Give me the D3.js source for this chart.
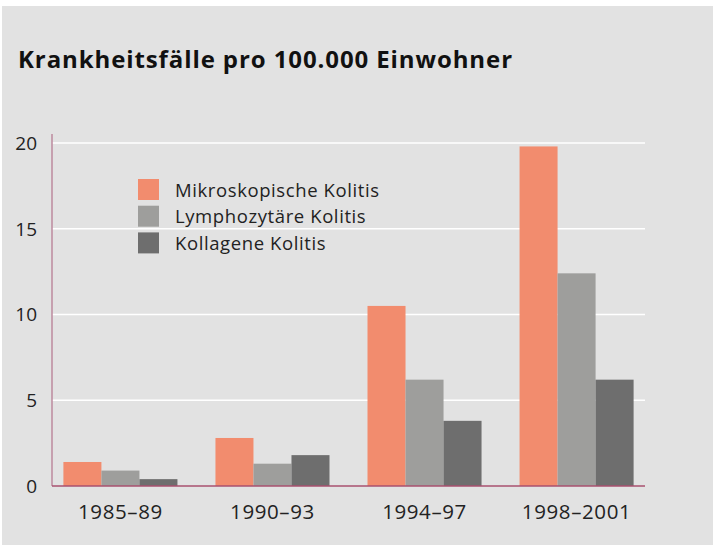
<!DOCTYPE html>
<html>
<head>
<meta charset="utf-8">
<script src="https://cdn.jsdelivr.net/npm/d3@7"></script>
<style>
  body { margin: 0; background: #ffffff; }
  svg { display: block; font-family: "Open Sans", "Noto Sans", sans-serif; }
</style>
</head>
<body>
<svg id="chart" width="715" height="546"></svg>
<script>
// chart data
const periods = ['1985–89', '1990–93', '1994–97', '1998–2001'];
const seriesNames = ['Mikroskopische Kolitis', 'Lymphozytäre Kolitis', 'Kollagene Kolitis'];
const mikroskopisch = [1.4, 2.8, 10.5, 19.8];
const lymphozytaer = [0.9, 1.3, 6.2, 12.4];
const kollagen = [0.4, 1.8, 3.8, 6.2];
const yTicks = [0, 5, 10, 15, 20];

const colors = ['#f28c6e', '#9e9e9c', '#6e6e6e'];
const seriesValues = [mikroskopisch, lymphozytaer, kollagen];

const svg = d3.select('#chart');

// panel background
svg.append('rect')
  .attr('x', 2).attr('y', 6)
  .attr('width', 711).attr('height', 539)
  .attr('fill', '#e2e2e2');

svg.append('text')
  .attr('x', 18).attr('y', 68)
  .attr('font-size', 24)
  .attr('font-weight', 'bold')
  .attr('letter-spacing', 0.9)
  .attr('fill', '#111')
  .text('Krankheitsfälle pro 100.000 Einwohner');

const plot = { left: 52, right: 645, top: 143, bottom: 486 };

const x = d3.scaleBand()
  .domain(periods)
  .range([plot.left, plot.right])
  .paddingInner(0.25)
  .paddingOuter(0.075);

const xSub = d3.scaleBand()
  .domain(d3.range(seriesNames.length))
  .range([0, x.bandwidth()]);

const y = d3.scaleLinear()
  .domain([0, 20])
  .range([plot.bottom, plot.top]);

// gridlines
svg.append('g')
  .selectAll('line')
  .data(yTicks.filter(d => d > 0))
  .join('line')
  .attr('x1', plot.left).attr('x2', plot.right)
  .attr('y1', d => y(d)).attr('y2', d => y(d))
  .attr('stroke', '#ffffff')
  .attr('stroke-width', 1.5);

// y tick labels
svg.append('g')
  .selectAll('text')
  .data(yTicks)
  .join('text')
  .attr('x', 37)
  .attr('y', d => y(d))
  .attr('dy', '0.36em')
  .attr('text-anchor', 'end')
  .attr('font-size', 19)
  .attr('fill', '#222')
  .text(d => d);

// bars
const groups = svg.append('g')
  .selectAll('g')
  .data(periods)
  .join('g')
  .attr('transform', d => `translate(${x(d)},0)`);

groups.selectAll('rect')
  .data((p, i) => seriesValues.map((vals, s) => ({ s, v: vals[i] })))
  .join('rect')
  .attr('x', d => xSub(d.s))
  .attr('width', xSub.bandwidth())
  .attr('y', d => y(d.v))
  .attr('height', d => y(0) - y(d.v))
  .attr('fill', d => colors[d.s]);

// axes lines
svg.append('line')
  .attr('x1', plot.left).attr('x2', plot.left)
  .attr('y1', 134).attr('y2', plot.bottom)
  .attr('stroke', '#bd8a9e')
  .attr('stroke-width', 1.5);

svg.append('line')
  .attr('x1', plot.left).attr('x2', plot.right)
  .attr('y1', plot.bottom).attr('y2', plot.bottom)
  .attr('stroke', '#a8506f')
  .attr('stroke-width', 1.5);

// x labels
svg.append('g')
  .selectAll('text')
  .data(periods)
  .join('text')
  .attr('x', d => x(d) + x.bandwidth() / 2)
  .attr('y', 519)
  .attr('text-anchor', 'middle')
  .attr('font-size', 20.5)
  .attr('letter-spacing', 0.6)
  .attr('fill', '#222')
  .text(d => d);

// legend
const legend = svg.append('g')
  .attr('transform', 'translate(138,179)');

const item = legend.selectAll('g')
  .data(seriesNames)
  .join('g')
  .attr('transform', (d, i) => `translate(0,${i * 26.7})`);

item.append('rect')
  .attr('width', 21).attr('height', 21)
  .attr('fill', (d, i) => colors[i]);

item.append('text')
  .attr('x', 37).attr('y', 11)
  .attr('dy', '0.36em')
  .attr('font-size', 18.5)
  .attr('letter-spacing', 0.6)
  .attr('fill', '#222')
  .text(d => d);
</script>
</body>
</html>
